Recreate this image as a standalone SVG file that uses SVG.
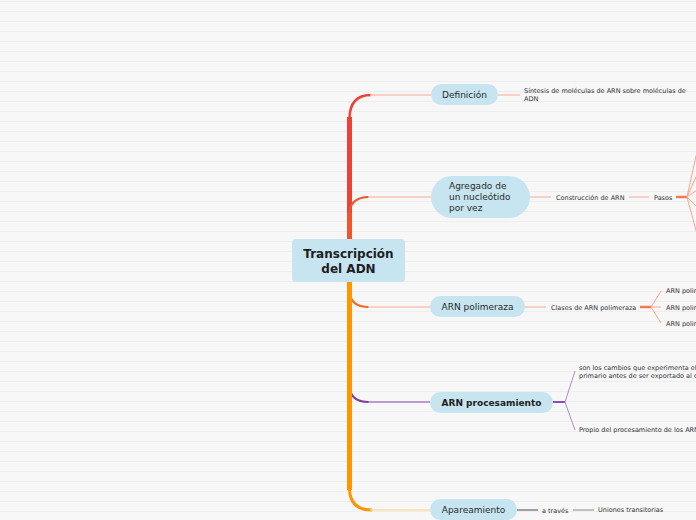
<svg xmlns="http://www.w3.org/2000/svg" width="696" height="520" viewBox="0 0 696 520">
<defs>
<pattern id="lines" width="696" height="10" patternUnits="userSpaceOnUse">
<rect width="696" height="10" fill="#f7f7f7"/>
<rect y="1" width="696" height="1" fill="#eeeeee"/>
</pattern>
</defs>
<style>
.node{fill:#c6e5f0}
.t{font-family:"DejaVu Sans",Verdana,sans-serif;font-size:9px;fill:#2a2a2a}
.tb{font-family:"DejaVu Sans",Verdana,sans-serif;font-size:9px;font-weight:bold;fill:#1e1e1e}
.s{font-family:"DejaVu Sans",Verdana,sans-serif;font-size:6.5px;fill:#333}
.th{fill:none;stroke-linecap:butt}
.ln{fill:none;stroke-width:1.5}
</style>
<rect width="696" height="520" fill="url(#lines)"/>
<g id="connectors">
<path class="th" d="M349.5,262 V117" stroke="#ee4037" stroke-width="5"/>
<path class="th" d="M349.5,119 Q349.5,95 371,95" stroke="#ee4037" stroke-width="2.5"/>
<path class="ln" d="M370,95 H431" stroke="#f9c3b6"/>
<path class="th" d="M349.5,262 V213" stroke="#f0552b" stroke-width="5"/>
<path class="th" d="M349.5,215 Q349.5,197 369,197" stroke="#f0552b" stroke-width="2"/>
<path class="ln" d="M368,197 H431" stroke="#f9c3b6"/>
<path class="th" d="M349.5,280 V387" stroke="#7b3e9d" stroke-width="5"/>
<path class="th" d="M349.5,385 Q349.5,402 369,402" stroke="#7b3e9d" stroke-width="2"/>
<path class="ln" d="M368,402 H430" stroke="#a77ec6"/>
<path class="th" d="M349.5,280 V292" stroke="#f26a22" stroke-width="5"/>
<path class="th" d="M349.5,290 Q349.5,307 369,307" stroke="#f26a22" stroke-width="2"/>
<path class="ln" d="M368,307 H430" stroke="#f9c3b6"/>
<path class="th" d="M349.5,280 V490" stroke="#ff9500" stroke-width="5"/>
<path class="th" d="M349.5,488 Q349.5,510 372,510" stroke="#ff9500" stroke-width="3"/>
<path class="ln" d="M370,510 H430" stroke="#ffdba6"/>
<path class="ln" d="M498,95 H520" stroke="#f9c3b6"/>
<path class="ln" d="M530,197 H551 M629,197 H649" stroke="#f9c3b6"/>
<path d="M676,197 H687" stroke="#ef7a52" stroke-width="2.5" fill="none"/>
<path d="M687,197 L700,138 M687,197 L700,168 M687,197 L700,188 M687,197 L700,210 M687,197 L700,245" stroke="#f5a88d" stroke-width="1" fill="none"/>
<path class="ln" d="M525,307 H546" stroke="#f9c3b6"/>
<path d="M640,307 H651" stroke="#ef7a52" stroke-width="2.5" fill="none"/>
<path d="M651,307 L661,291 M651,307 H661 M651,307 L661,323" stroke="#f5a88d" stroke-width="1" fill="none"/>
<path d="M553,402 H565" stroke="#8a4db0" stroke-width="2" fill="none"/>
<path d="M565,402 L575,371 M565,402 L575,430" stroke="#b08ad0" stroke-width="1" fill="none"/>
<path d="M517,510 H538" stroke="#a0a0a8" stroke-width="2" fill="none"/>
<path d="M573,510 H594" stroke="#8a8a92" stroke-width="1" fill="none"/>
</g>
<g id="root">
<rect class="node" x="292" y="239" width="113" height="43" rx="4"/>
<text class="tb" style="font-size:12px" x="348.5" y="258" text-anchor="middle">Transcripción</text>
<text class="tb" style="font-size:12px" x="348.5" y="273" text-anchor="middle">del ADN</text>
</g>
<g id="definicion">
<rect class="node" x="431" y="84" width="67" height="21" rx="10.5"/>
<text class="t" x="464.5" y="98.2" text-anchor="middle">Definición</text>
</g>
<g id="sintesis">
<text class="s" x="524" y="93">Síntesis de moléculas de ARN sobre moléculas de</text>
<text class="s" x="524" y="101">ADN</text>
</g>
<g id="agregado">
<rect class="node" x="431" y="176" width="99" height="42" rx="21"/>
<text class="t" x="449" y="189">Agregado de</text>
<text class="t" x="449" y="200">un nucleótido</text>
<text class="t" x="449" y="211">por vez</text>
</g>
<g id="construccion"><text class="s" x="556" y="199.5">Construcción de ARN</text></g>
<g id="pasos"><text class="s" x="654" y="199.5">Pasos</text></g>
<g id="polimeraza">
<rect class="node" x="430" y="296" width="95" height="21" rx="10.5"/>
<text class="t" x="477.5" y="310.2" text-anchor="middle">ARN polimeraza</text>
</g>
<g id="clases"><text class="s" x="551" y="309.5">Clases de ARN polimeraza</text></g>
<g id="pol1"><text class="s" x="666" y="293">ARN polimerasa I</text></g>
<g id="pol2"><text class="s" x="666" y="309.5">ARN polimerasa II</text></g>
<g id="pol3"><text class="s" x="666" y="326">ARN polimerasa III</text></g>
<g id="procesamiento">
<rect class="node" x="430" y="392" width="123" height="21" rx="10.5"/>
<text class="tb" x="491.5" y="406.2" text-anchor="middle">ARN procesamiento</text>
</g>
<g id="cambios">
<text class="s" x="579" y="370">son los cambios que experimenta el ARN</text>
<text class="s" x="579" y="378">primario antes de ser exportado al citoplasma</text>
</g>
<g id="propio"><text class="s" x="579" y="432">Propio del procesamiento de los ARN</text></g>
<g id="apareamiento">
<rect class="node" x="430" y="499" width="87" height="21" rx="10.5"/>
<text class="t" x="473.5" y="513.2" text-anchor="middle">Apareamiento</text>
</g>
<g id="atraves"><text class="s" x="542" y="512.5">a través</text></g>
<g id="uniones"><text class="s" x="598" y="512">Uniones transitorias</text></g>
</svg>
